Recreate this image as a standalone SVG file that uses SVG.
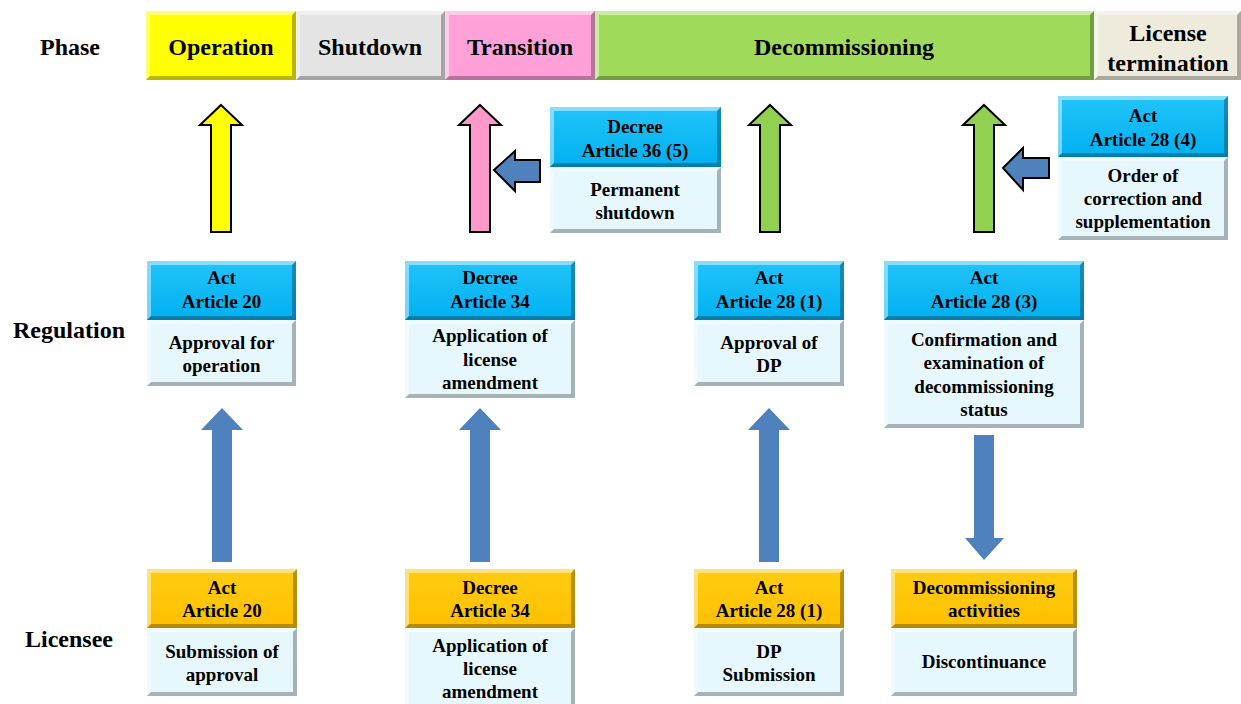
<svg xmlns="http://www.w3.org/2000/svg" width="1241" height="704" viewBox="0 0 1241 704">
<style>
text{font-family:"Liberation Serif","Times New Roman",serif;font-weight:bold;fill:#000;text-anchor:middle}
.lbl{font-size:24px}
.ph{font-size:24px}
.bx{font-size:19px}
.hd{fill:url(#gCyan)}
.lh{fill:url(#gGold)}
.bd{fill:#E6F8FD}
.hi{fill:#fff;opacity:.45}
.sh{fill:#000;opacity:.28}
.up{stroke:#000;stroke-width:2;stroke-linejoin:miter}
.blue{fill:#4F81BD}
.bl{fill:#4F81BD;stroke:#000;stroke-width:2}
</style>
<defs>
<linearGradient id="gCyan" x1="0" y1="0" x2="0" y2="1">
<stop offset="0" stop-color="#22C4FA"/><stop offset="1" stop-color="#00B0F0"/>
</linearGradient>
<linearGradient id="gGold" x1="0" y1="0" x2="0" y2="1">
<stop offset="0" stop-color="#FFCC11"/><stop offset="1" stop-color="#FFC000"/>
</linearGradient>
</defs>
<rect width="1241" height="704" fill="#fff"/>

<g id="labels">
<text class="lbl" x="70" y="55">Phase</text>
<text class="lbl" x="69" y="338">Regulation</text>
<text class="lbl" x="69" y="647">Licensee</text>
</g>

<g id="phase-operation">
<rect x="146" y="11" width="150" height="69" fill="#FFFF00"/>
<path class="hi" d="M146 11H296L292 15H150V76L146 80Z"/>
<path class="sh" d="M296 11V80H146L150 76H292V15Z"/>
<text class="ph" x="221" y="55">Operation</text>
</g>
<g id="phase-shutdown">
<rect x="296" y="11" width="149" height="69" fill="#E4E4E4"/>
<path class="hi" d="M296 11H445L441 15H300V76L296 80Z"/>
<path class="sh" d="M445 11V80H296L300 76H441V15Z"/>
<text class="ph" x="370" y="55">Shutdown</text>
</g>
<g id="phase-transition">
<rect x="445" y="11" width="150" height="69" fill="#FFA0D8"/>
<path class="hi" d="M445 11H595L591 15H449V76L445 80Z"/>
<path class="sh" d="M595 11V80H445L449 76H591V15Z"/>
<text class="ph" x="520" y="55">Transition</text>
</g>
<g id="phase-decommissioning">
<rect x="595" y="11" width="499" height="69" fill="#9FDA5A"/>
<path class="hi" d="M595 11H1094L1090 15H599V76L595 80Z"/>
<path class="sh" d="M1094 11V80H595L599 76H1090V15Z"/>
<text class="ph" x="844" y="55">Decommissioning</text>
</g>
<g id="phase-license-termination">
<rect x="1094" y="11" width="147" height="69" fill="#EEEADC"/>
<path class="hi" d="M1094 11H1241L1237 15H1098V76L1094 80Z"/>
<path class="sh" d="M1241 11V80H1094L1098 76H1237V15Z"/>
<text class="ph" x="1168" y="41">License</text>
<text class="ph" x="1168" y="71">termination</text>
</g>

<g id="connectors">
<path class="up" fill="#FFFF00" d="M221 105L242 125H231V232H211V125H200Z"/>
<path class="up" fill="#FF99CC" d="M480 105L501 125H490V232H470V125H459Z"/>
<path class="up" fill="#92D050" d="M770 105L791 125H780V232H760V125H749Z"/>
<path class="up" fill="#92D050" d="M984 105L1005 125H994V232H974V125H963Z"/>
<path class="bl" d="M494 170L515 151V160H540V182H515V191Z"/>
<path class="bl" d="M1003 168L1023 148V158H1049V178H1023V190Z"/>
<path class="blue" d="M222 408L243 430H232V562H212V430H201Z"/>
<path class="blue" d="M480 408L501 430H490V562H470V430H459Z"/>
<path class="blue" d="M769 408L790 430H779V562H759V430H748Z"/>
<path class="blue" d="M984 560L1004 538H994V435H974V538H965Z"/>
</g>

<g id="decree-36-5">
<rect class="hd" x="550" y="107" width="171" height="60"/>
<path class="hi" d="M550 107H721L717 111H554V163L550 167Z"/>
<path class="sh" d="M721 107V167H550L554 163H717V111Z"/>
<rect class="bd" x="550" y="167" width="171" height="66"/>
<path class="hi" d="M550 167H721L717 171H554V229L550 233Z"/>
<path class="sh" d="M721 167V233H550L554 229H717V171Z"/>
<text class="bx" x="635" y="133">Decree</text>
<text class="bx" x="635" y="157">Article 36 (5)</text>
<text class="bx" x="635" y="196">Permanent</text>
<text class="bx" x="635" y="219">shutdown</text>
</g>

<g id="act-28-4">
<rect class="hd" x="1058" y="96" width="170" height="61"/>
<path class="hi" d="M1058 96H1228L1224 100H1062V153L1058 157Z"/>
<path class="sh" d="M1228 96V157H1058L1062 153H1224V100Z"/>
<rect class="bd" x="1058" y="157" width="170" height="83"/>
<path class="hi" d="M1058 157H1228L1224 161H1062V236L1058 240Z"/>
<path class="sh" d="M1228 157V240H1058L1062 236H1224V161Z"/>
<text class="bx" x="1143" y="122">Act</text>
<text class="bx" x="1143" y="146">Article 28 (4)</text>
<text class="bx" x="1143" y="182">Order of</text>
<text class="bx" x="1143" y="205">correction and</text>
<text class="bx" x="1143" y="228">supplementation</text>
</g>

<g id="reg-act-20">
<rect class="hd" x="147" y="261" width="149" height="59"/>
<path class="hi" d="M147 261H296L292 265H151V316L147 320Z"/>
<path class="sh" d="M296 261V320H147L151 316H292V265Z"/>
<rect class="bd" x="147" y="320" width="149" height="66"/>
<path class="hi" d="M147 320H296L292 324H151V382L147 386Z"/>
<path class="sh" d="M296 320V386H147L151 382H292V324Z"/>
<text class="bx" x="221.5" y="284">Act</text>
<text class="bx" x="221.5" y="308">Article 20</text>
<text class="bx" x="221.5" y="349">Approval for</text>
<text class="bx" x="221.5" y="372">operation</text>
</g>

<g id="reg-decree-34">
<rect class="hd" x="405" y="261" width="170" height="59"/>
<path class="hi" d="M405 261H575L571 265H409V316L405 320Z"/>
<path class="sh" d="M575 261V320H405L409 316H571V265Z"/>
<rect class="bd" x="405" y="320" width="170" height="78"/>
<path class="hi" d="M405 320H575L571 324H409V394L405 398Z"/>
<path class="sh" d="M575 320V398H405L409 394H571V324Z"/>
<text class="bx" x="490" y="284">Decree</text>
<text class="bx" x="490" y="308">Article 34</text>
<text class="bx" x="490" y="342">Application of</text>
<text class="bx" x="490" y="366">license</text>
<text class="bx" x="490" y="389">amendment</text>
</g>

<g id="reg-act-28-1">
<rect class="hd" x="694" y="261" width="150" height="59"/>
<path class="hi" d="M694 261H844L840 265H698V316L694 320Z"/>
<path class="sh" d="M844 261V320H694L698 316H840V265Z"/>
<rect class="bd" x="694" y="320" width="150" height="66"/>
<path class="hi" d="M694 320H844L840 324H698V382L694 386Z"/>
<path class="sh" d="M844 320V386H694L698 382H840V324Z"/>
<text class="bx" x="769" y="284">Act</text>
<text class="bx" x="769" y="308">Article 28 (1)</text>
<text class="bx" x="769" y="349">Approval of</text>
<text class="bx" x="769" y="372">DP</text>
</g>

<g id="reg-act-28-3">
<rect class="hd" x="884" y="261" width="200" height="59"/>
<path class="hi" d="M884 261H1084L1080 265H888V316L884 320Z"/>
<path class="sh" d="M1084 261V320H884L888 316H1080V265Z"/>
<rect class="bd" x="884" y="320" width="200" height="108"/>
<path class="hi" d="M884 320H1084L1080 324H888V424L884 428Z"/>
<path class="sh" d="M1084 320V428H884L888 424H1080V324Z"/>
<text class="bx" x="984" y="284">Act</text>
<text class="bx" x="984" y="308">Article 28 (3)</text>
<text class="bx" x="984" y="346">Confirmation and</text>
<text class="bx" x="984" y="369">examination of</text>
<text class="bx" x="984" y="393">decommissioning</text>
<text class="bx" x="984" y="416">status</text>
</g>

<g id="lic-act-20">
<rect class="lh" x="147" y="569" width="150" height="59"/>
<path class="hi" d="M147 569H297L293 573H151V624L147 628Z"/>
<path class="sh" d="M297 569V628H147L151 624H293V573Z"/>
<rect class="bd" x="147" y="628" width="150" height="68"/>
<path class="hi" d="M147 628H297L293 632H151V692L147 696Z"/>
<path class="sh" d="M297 628V696H147L151 692H293V632Z"/>
<text class="bx" x="222" y="594">Act</text>
<text class="bx" x="222" y="617">Article 20</text>
<text class="bx" x="222" y="658">Submission of</text>
<text class="bx" x="222" y="681">approval</text>
</g>

<g id="lic-decree-34">
<rect class="lh" x="405" y="569" width="170" height="59"/>
<path class="hi" d="M405 569H575L571 573H409V624L405 628Z"/>
<path class="sh" d="M575 569V628H405L409 624H571V573Z"/>
<rect class="bd" x="405" y="628" width="170" height="78"/>
<path class="hi" d="M405 628H575L571 632H409V706L405 706Z"/>
<path class="sh" d="M575 628V706H571V632Z"/>
<text class="bx" x="490" y="594">Decree</text>
<text class="bx" x="490" y="617">Article 34</text>
<text class="bx" x="490" y="652">Application of</text>
<text class="bx" x="490" y="675">license</text>
<text class="bx" x="490" y="698">amendment</text>
</g>

<g id="lic-act-28-1">
<rect class="lh" x="694" y="569" width="150" height="59"/>
<path class="hi" d="M694 569H844L840 573H698V624L694 628Z"/>
<path class="sh" d="M844 569V628H694L698 624H840V573Z"/>
<rect class="bd" x="694" y="628" width="150" height="68"/>
<path class="hi" d="M694 628H844L840 632H698V692L694 696Z"/>
<path class="sh" d="M844 628V696H694L698 692H840V632Z"/>
<text class="bx" x="769" y="594">Act</text>
<text class="bx" x="769" y="617">Article 28 (1)</text>
<text class="bx" x="769" y="658">DP</text>
<text class="bx" x="769" y="681">Submission</text>
</g>

<g id="lic-decommissioning-activities">
<rect class="lh" x="891" y="569" width="186" height="59"/>
<path class="hi" d="M891 569H1077L1073 573H895V624L891 628Z"/>
<path class="sh" d="M1077 569V628H891L895 624H1073V573Z"/>
<rect class="bd" x="891" y="628" width="186" height="68"/>
<path class="hi" d="M891 628H1077L1073 632H895V692L891 696Z"/>
<path class="sh" d="M1077 628V696H891L895 692H1073V632Z"/>
<text class="bx" x="984" y="594">Decommissioning</text>
<text class="bx" x="984" y="617">activities</text>
<text class="bx" x="984" y="668">Discontinuance</text>
</g>
</svg>
